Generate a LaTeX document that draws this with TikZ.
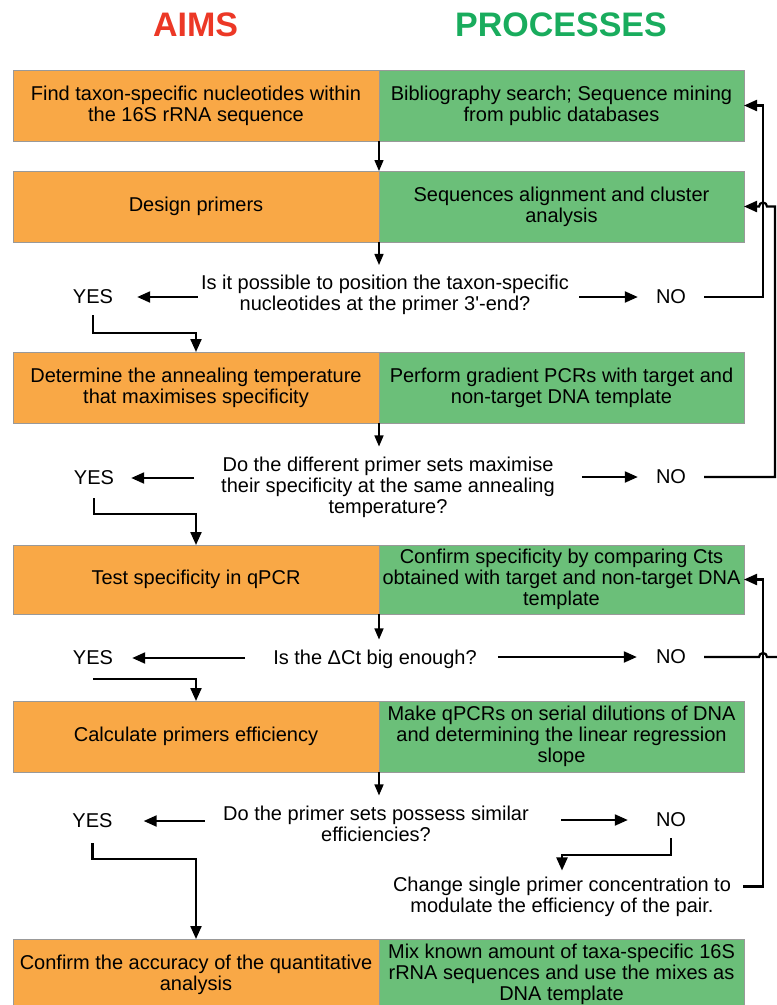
\documentclass[tikz,border=0pt]{standalone}
\usepackage{fontspec}
\setmainfont{Liberation Sans}
\usetikzlibrary{positioning}
\usetikzlibrary{arrows.meta}

\definecolor{aimfill}{RGB}{249,168,70}
\definecolor{procfill}{RGB}{107,191,121}
\definecolor{aimred}{RGB}{236,56,38}
\definecolor{procgreen}{RGB}{25,172,93}

\begin{document}
\begin{tikzpicture}
	[x=1pt, y=-1pt, font=\fontsize{20}{21}\selectfont,
	aim/.style = {draw=black!40, fill=aimfill, minimum width=366pt, minimum height=71pt, inner sep=0pt, outer sep=0pt, align=center},
	proc/.style = {aim, fill=procfill, minimum width=365pt},
	ask/.style = {align=center, inner xsep=3pt, inner ysep=10pt},
	ans/.style = {inner sep=6pt},
	head/.style = {font=\fontsize{34}{36}\selectfont\bfseries},
	gap/.style 2 args = {shorten <=#1, shorten >=#2},
	flow/.style = {line width=1.4pt, -{Triangle[length=11pt, width=9pt]}},
	wire/.style = {line width=2.2pt},
	link/.style = {wire, -{Triangle[length=13pt, width=11pt]}}]
	\useasboundingbox (0,0) rectangle (777,1005);
	\node[head, text=aimred] (h1) at (195.5,25) {AIMS};
	\node[head, text=procgreen] (h2) at (561,25) {PROCESSES};
	% rows
	\node[aim] (a1) at (196,105.5) {Find taxon-specific nucleotides within\\the 16S rRNA sequence};
	\node[proc] (p1) [right=0pt of a1] {Bibliography search; Sequence mining\\from public databases};
	\node[aim] (a2) at (196,206.5) {Design primers};
	\node[proc] (p2) [right=0pt of a2] {Sequences alignment and cluster\\analysis};
	\node[ask] (q1) at (385,295) {Is it possible to position the taxon-specific\\nucleotides at the primer 3\textquotesingle-end?};
	\node[ans] (y1) at (93,297) {YES};
	\node[ans] (n1) at (671,297) {NO};
	\node[aim] (a3) at (196,387.5) {Determine the annealing temperature\\that maximises specificity};
	\node[proc] (p3) [right=0pt of a3] {Perform gradient PCRs with target and\\non-target DNA template};
	\node[ask] (q2) at (388,487) {Do the different primer sets maximise\\their specificity at the same annealing\\temperature?};
	\node[ans] (y2) at (94,478) {YES};
	\node[ans] (n2) at (671,477) {NO};
	\node[aim, minimum height=69pt] (a4) at (196,579.5) {Test specificity in qPCR};
	\node[proc, minimum height=69pt] (p4) [right=0pt of a4] {Confirm specificity by comparing Cts\\obtained with target and non-target DNA\\template};
	\node[ask] (q3) at (375,659) {Is the ΔCt big enough?};
	\node[ans] (y3) at (93,658) {YES};
	\node[ans] (n3) at (671,657) {NO};
	\node[aim] (a5) at (196,736.5) {Calculate primers efficiency};
	\node[proc] (p5) [right=0pt of a5] {Make qPCRs on serial dilutions of DNA\\and determining the linear regression\\slope};
	\node[ask] (q4) at (376,823.5) {Do the primer sets possess similar\\efficiencies?};
	\node[ans] (y4) at (92.5,821) {YES};
	\node[ans] (n4) at (671,820) {NO};
	\node[ask] (c1) at (562,896.5) {Change single primer concentration to\\modulate the efficiency of the pair.};
	\node[aim] (a6) at (196,974.5) {Confirm the accuracy of the quantitative\\analysis};
	\node[proc] (p6) [right=0pt of a6] {Mix known amount of taxa-specific 16S\\rRNA sequences and use the mixes as\\DNA template};
	\coordinate (rail) at (763,0);
	\coordinate (back) at (775,0);
	\coordinate (edge) at (790,657);
	% down the middle
	\draw[flow] (a1.south east) -- (a2.north east);
	\draw[flow] (a2.south east) -- (a2.south east |- q1.north);
	\draw[flow] (a3.south east) -- (a3.south east |- q2.north);
	\draw[flow] (a4.south east) -- (a4.south east |- q3.north);
	\draw[flow] (a5.south east) -- (a5.south east |- q4.north);
	% answers
	\draw[link, gap={0pt}{18pt}] (q1.west |- y1) -- (y1);
	\draw[link, gap={7pt}{12pt}] (q1.east |- n1) -- (n1);
	\draw[link, gap={24pt}{11pt}] (q2.west |- y2) -- (y2);
	\draw[link, gap={24pt}{12pt}] (q2.east |- n2) -- (n2);
	\draw[link, gap={25pt}{13pt}] (q3.west |- y3) -- (y3);
	\draw[link, gap={18pt}{13pt}] (q3.east |- n3) -- (n3);
	\draw[link, gap={15pt}{25pt}] (q4.west |- y4) -- (y4);
	\draw[link, gap={29pt}{22pt}] (q4.east |- n4) -- (n4);
	% yes
	\draw[link, shorten <=5pt] (y1.south) -- ++(0,23) -| (a3.north);
	\draw[link, shorten <=7pt] (y2.south) -- ++(0,23) -| (a4.north);
	\draw[link] (y3.south) ++(0,8) -| (a5.north);
	\draw[link, shorten <=9pt] (y4.south) -- ++(0,25) -| (a6.north);
	% no
	\draw[link, shorten <=12pt] (n1.east) -- (n1.east -| rail) |- (p1.east);
	\draw[link, shorten <=12pt] (n2.east) -- (n2.east -| back) |- ([xshift=4pt]rail |- p2.east) arc[start angle=0, end angle=180, radius=4pt] -- (p2.east);
	\draw[wire, shorten <=12pt] (n3.east) -- ([xshift=-4pt]rail |- n3.east) arc[start angle=180, end angle=0, radius=4pt] -- (edge);
	\draw[link, gap={5pt}{-4pt}] (n4.south) -- ++(0,22) -| (c1.north);
	\draw[link, shorten <=9pt] ([yshift=10pt]c1.east) -| (rail |- p4.east) -- (p4.east);
\end{tikzpicture}
\end{document}
